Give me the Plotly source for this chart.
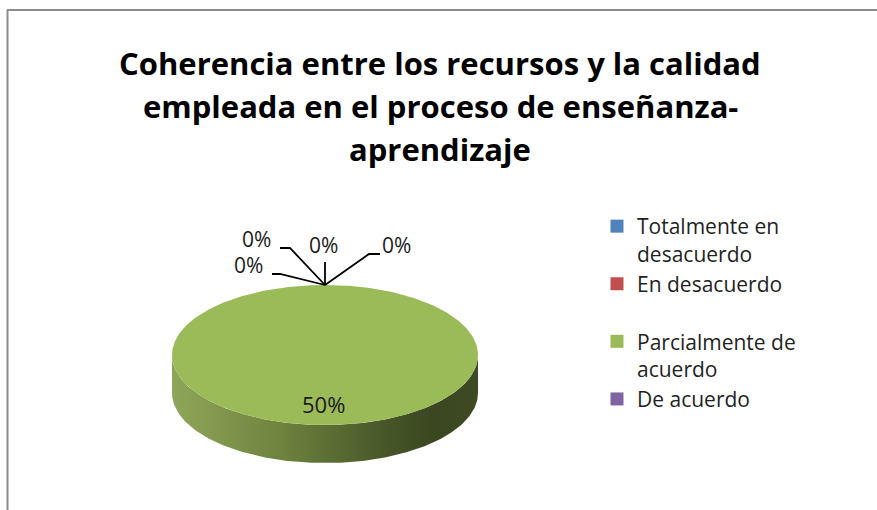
import numpy as np
import plotly.graph_objects as go

# ---------------- data ----------------
categories = ["Totalmente en desacuerdo", "En desacuerdo", "Parcialmente de acuerdo",
              "De acuerdo", "Totalmente de acuerdo"]
legend_names = ["Totalmente en<br>desacuerdo", "En desacuerdo<br>&nbsp;",
                "Parcialmente de<br>acuerdo", "De acuerdo<br>&nbsp;", "Totalmente de acuerdo"]
values = [0, 0, 50, 0, 0]
label_texts = [f"{v}%" for v in values]
colors = ["#4F81BD", "#C0504D", "#9BBB59", "#8064A2", "#4BACC6"]
show_in_legend = [True, True, True, True, False]
title_lines = ["Coherencia entre los recursos y la calidad",
               "empleada en el proceso de enseñanza-",
               "aprendizaje"]

# ---------------- geometry / style (pixel space) ----------------
W, H = 877, 510
cx, cy, rx, ry, depth = 325, 355, 153, 70, 38
FONT = "Open Sans"
title_y = [63, 106, 149]
# leader-line layout for zero-value labels: (elbow offset, end offset, label offset) from anchor
leader_layout = {
    0: ((44, -31), (55, -31), (71, -40)),
    1: ((0, -12), (0, -23), (-2, -40)),
    3: ((-45, -11), (-53, -11), (-77, -20)),
    4: ((-35, -37), (-45, -37), (-69, -46)),
}

total = float(sum(values))
fracs = [v / total for v in values]
cum = np.concatenate([[0.0], np.cumsum(fracs)])


def pt(theta, r=1.0, dy=0.0):
    return cx + r * rx * np.sin(theta), cy - r * ry * np.cos(theta) + dy


fig = go.Figure()

# side walls (front half of the ellipse), drawn first
for i, v in enumerate(values):
    if v <= 0:
        continue
    a0, a1 = 2 * np.pi * cum[i], 2 * np.pi * cum[i + 1]
    s0, s1 = max(a0, np.pi / 2), min(a1, 3 * np.pi / 2)
    if s1 <= s0:
        continue
    th = np.linspace(s1, s0, 200)
    tx, ty = pt(th)
    bx, by = pt(th[::-1], dy=depth)
    xs = np.concatenate([tx, bx, tx[:1]])
    ys = np.concatenate([ty, by, ty[:1]])
    fig.add_trace(go.Scatter(
        x=xs, y=ys, mode="lines", fill="toself", line=dict(width=0),
        fillgradient=dict(type="horizontal",
                          colorscale=[[0, "#8ea659"], [0.35, "#6f843f"],
                                      [0.7, "#475628"], [0.85, "#3b4721"], [1, "#3d4a22"]]),
        hoverinfo="skip", showlegend=False))

# top faces
for i, v in enumerate(values):
    if v <= 0:
        continue
    a0, a1 = 2 * np.pi * cum[i], 2 * np.pi * cum[i + 1]
    th = np.linspace(a0, a1, 360)
    ex, ey = pt(th)
    if fracs[i] < 1:
        ex = np.concatenate([[cx], ex, [cx]])
        ey = np.concatenate([[cy], ey, [cy]])
    fig.add_trace(go.Scatter(
        x=ex, y=ey, mode="lines", fill="toself", fillcolor=colors[i],
        line=dict(width=0), hoverinfo="text", text=f"{categories[i]}: {label_texts[i]}",
        showlegend=False))

# data labels
annotations = []
for i, v in enumerate(values):
    a0, a1 = 2 * np.pi * cum[i], 2 * np.pi * cum[i + 1]
    if v > 0:
        lx, ly = pt((a0 + a1) / 2, r=0.7)
        annotations.append(dict(x=lx - 2, y=ly, xref="x", yref="y", text=label_texts[i],
                                showarrow=False, font=dict(family=FONT, size=22, color="#1a1a1a")))
    else:
        ax_, ay_ = pt(a0)
        (ex_, ey_), (nx_, ny_), (lx_, ly_) = leader_layout[i]
        fig.add_trace(go.Scatter(
            x=[ax_, ax_ + ex_, ax_ + nx_], y=[ay_, ay_ + ey_, ay_ + ny_], mode="lines",
            line=dict(color="#000000", width=1.8), hoverinfo="skip", showlegend=False))
        annotations.append(dict(x=ax_ + lx_, y=ay_ + ly_, xref="x", yref="y", text=label_texts[i],
                                showarrow=False, font=dict(family=FONT, size=21, color="#1a1a1a")))

# title lines
for line, yy in zip(title_lines, title_y):
    annotations.append(dict(x=440, y=yy, xref="x", yref="y", text=line, showarrow=False,
                            xanchor="center", yanchor="middle",
                            font=dict(family=FONT, size=31, color="#000000", weight="bold")))

# legend entries
for i, name in enumerate(legend_names):
    if not show_in_legend[i]:
        continue
    fig.add_trace(go.Scatter(
        x=[None], y=[None], mode="markers", name=name,
        marker=dict(symbol="square", size=13, color=colors[i])))

fig.update_layout(
    width=W, height=H,
    margin=dict(l=0, r=0, t=0, b=0),
    paper_bgcolor="white", plot_bgcolor="white",
    xaxis=dict(range=[0, W], visible=False, fixedrange=True),
    yaxis=dict(range=[H, 0], visible=False, fixedrange=True),
    legend=dict(x=597 / W, y=1 - 206 / H, xanchor="left", yanchor="top",
                xref="paper", yref="paper", valign="top", tracegroupgap=0,
                font=dict(family=FONT, size=21, color="#1f1f1f"),
                bgcolor="rgba(0,0,0,0)"),
    annotations=annotations,
    shapes=[
        dict(type="line", xref="x", yref="y", x0=7, x1=W, y0=10, y1=10,
             line=dict(color="#8c8c8c", width=2)),
        dict(type="line", xref="x", yref="y", x0=7.5, x1=7.5, y0=10, y1=H,
             line=dict(color="#8c8c8c", width=2)),
    ],
    showlegend=True,
)

fig.write_html("out.html", config={"displayModeBar": False},
               post_script="document.body.style.margin='0px';")
